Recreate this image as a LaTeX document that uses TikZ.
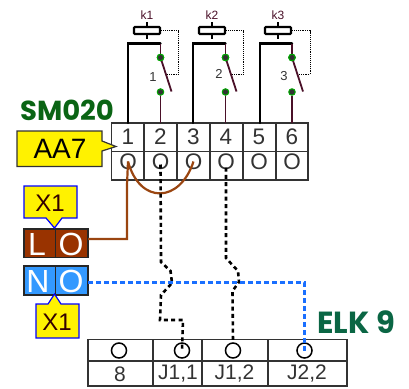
\documentclass[tikz,border=0pt]{standalone}
\usepackage{fontspec}
\setmainfont{Liberation Sans}
\newfontfamily\headfont{Poppins}
\usetikzlibrary{calc}
\definecolor{maroonw}{HTML}{4A1028}
\definecolor{brownw}{HTML}{9A4510}
\definecolor{bluew}{HTML}{1A6FFF}
\definecolor{headg}{HTML}{0A6414}
\definecolor{headt}{HTML}{0A6644}
\definecolor{gridc}{HTML}{333333}
\definecolor{lbox}{HTML}{993300}
\definecolor{nbox}{HTML}{3399FF}
\tikzset{
  x=1pt,y=-1pt,
  grid/.style={draw=gridc,line width=1.4pt},
  cell/.style={text=gridc,inner sep=0pt,anchor=center,font=\fontsize{22.5}{22.5}\selectfont},
  cellb/.style={text=gridc,inner sep=0pt,anchor=center,font=\fontsize{21}{21}\selectfont},
  term/.style={circle,draw=black,line width=1.5pt,minimum size=15pt,inner sep=0pt},
  coil/.style={draw=black,line width=2.1pt,fill=white,minimum width=26pt,minimum height=7pt,inner sep=0pt,rounded corners=0.8pt},
  contact/.style={circle,draw=green!65!black,fill=black!80,line width=1pt,minimum size=6.5pt,inner sep=0pt},
  klabel/.style={text=maroonw,inner sep=0pt,font=\fontsize{12}{12}\selectfont},
  numlabel/.style={text=gridc,inner sep=0pt,font=\fontsize{13}{13}\selectfont},
  blackw/.style={draw=black,line width=2.4pt},
  maroonline/.style={draw=maroonw,line width=1.8pt},
  dotw/.style={draw=black,line width=0.9pt,densely dotted},
  blackdash/.style={draw=black,line width=2.6pt,dash pattern=on 4pt off 3.3pt},
  bluedash/.style={draw=bluew,line width=2.8pt,dash pattern=on 4.5pt off 3.5pt},
  brownline/.style={draw=brownw,line width=2.2pt},
  yellowtag/.style={fill=yellow,draw=blue,line width=1.2pt},
  boxletter/.style={text=white,inner sep=0pt,font=\fontsize{32}{32}\selectfont},
  tagtext/.style={inner sep=0pt,text=black!80!red,font=\fontsize{24}{24}\selectfont},
}
\begin{document}
\begin{tikzpicture}
\useasboundingbox (0,0) rectangle (409,388);
% headings
\node[text=headg,inner sep=0pt,anchor=center,font=\headfont\bfseries\fontsize{27.5}{27.5}\selectfont] (smt) at (67,110) {SM020};
\node[text=headt,inner sep=0pt,anchor=center,font=\headfont\bfseries\fontsize{30.5}{30.5}\selectfont] (elkt) at (356,322) {ELK 9};
% SM020 table
\draw[grid] (111.5,123) rectangle (308,180);
\draw[grid] (111.5,151.5) -- (308,151.5);
\foreach \x in {144,177,210,243,276} \draw[grid] (\x,123) -- (\x,180);
\foreach \n/\x in {1/128,2/160.5,3/193.5,4/226,5/259,6/292}{
  \node[cell] (n\n) at (\x,137) {\n};
  \node[cell,minimum size=0pt] (o\n) at (\x,161.5) {O};
}
% AA7 callout
\draw[fill=yellow,draw=gridc,line width=1.2pt] (17,131) -- (102,131) -- (102,141) -- (116,146.5) -- (102,151) -- (102,166.5) -- (17,166.5) -- cycle;
\node[inner sep=0pt,text=black,font=\fontsize{28}{28}\selectfont] (aa) at (60,149) {AA7};
% relays
\foreach \i/\cx/\bx/\dx/\lx/\ly in {1/147/128/160.5/153/77,2/212/193/225.5/219/74,3/278/260/292/284/76}{
  \draw[line width=1.2pt,draw=black] (\cx,22) -- (\cx,39);
  \node[coil] (c\i) at (\cx,30.5) {};
  \node[klabel] (k\i) at (\cx,15) {k\i};
  \coordinate (top\i) at (\dx,43.5);
  \node[contact] (a\i) at (\dx,57.5) {};
  \node[contact] (b\i) at (\dx,92) {};
  \coordinate (sw\i) at ($(\dx,57.5)+(11,34)$);
  \coordinate (mid\i) at ($(\dx,57.5)+(6,17)$);
  \draw[dotw] (c\i.east) -| ($(mid\i)+(12,0)$) -- (mid\i);
  \draw[blackw,line cap=round] (\bx,123) -- (\bx,43.5) -- (top\i);
  \draw[maroonline] (top\i) -- (a\i);
  \draw[maroonline] (a\i.center) -- (sw\i);
  \draw[maroonline] (b\i) -- (\dx,123);
  \node[contact] at (a\i) {};
  \node[numlabel] (l\i) at (\lx,\ly) {\i};
}
% L/N boxes
\draw[fill=lbox,draw=black!85,line width=1.5pt] (24,229) rectangle (88,257.5);
\draw[draw=black!85,line width=1.3pt] (55.5,229) -- (55.5,257.5);
\node[boxletter] (lL) at (37,244) {L};
\node[boxletter] (lO) at (71,244) {O};
\draw[fill=nbox,draw=black!85,line width=1.5pt] (24,266) rectangle (88,295);
\draw[draw=black!85,line width=1.3pt] (55.5,266) -- (55.5,295);
\node[boxletter] (nN) at (38,281) {N};
\node[boxletter] (nO) at (71,281) {O};
% X1 tags
\draw[yellowtag] (24,186) -- (77,186) -- (77,218) -- (62,218) -- (54.5,228) -- (46,218) -- (24,218) -- cycle;
\node[tagtext] (x1a) at (50,203) {X1};
\draw[yellowtag] (36,304) -- (48,304) -- (54.5,294) -- (61,304) -- (79,304) -- (79,338) -- (36,338) -- cycle;
\node[tagtext] (x1b) at (57,322) {X1};
% ELK table
\draw[grid] (88,339.5) rectangle (347,386);
\draw[grid] (88,361) -- (347,361);
\foreach \x in {153,202,268} \draw[grid] (\x,339.5) -- (\x,386);
\foreach \n/\x/\t/\tx in {a/119/8/120,b/182/{J1,1}/178,c/233/{J1,2}/234.5,d/304.5/{J2,2}/307}{
  \node[term] (t\n) at (\x,350.5) {};
  \node[cellb] (u\n) at (\tx,374) {\t};
}
% connectors
\coordinate (lOout) at (88,239);
\coordinate (nOout) at (88,282.5);
\draw[brownline] (lOout) -| (127,185) -- (o1.center);
\draw[brownline] (o1.center) .. controls (140,205) and (180,203) .. (o3.center);
\draw[blackdash] (o2.center) ++(0,3) -- (161,262) -- (170.5,271) -- (172,283) -- (161,295) -- (160,320) -- (183,320) -- (tb.center);
\draw[blackdash] (o4.center) ++(0,6) -- (226,258) -- (238,271) -- (239,282) -- (232.5,291) -- (tc.north);
\draw[bluedash] (nOout) -- (304.5,282.5) -- (td.center);
\end{tikzpicture}
\end{document}
